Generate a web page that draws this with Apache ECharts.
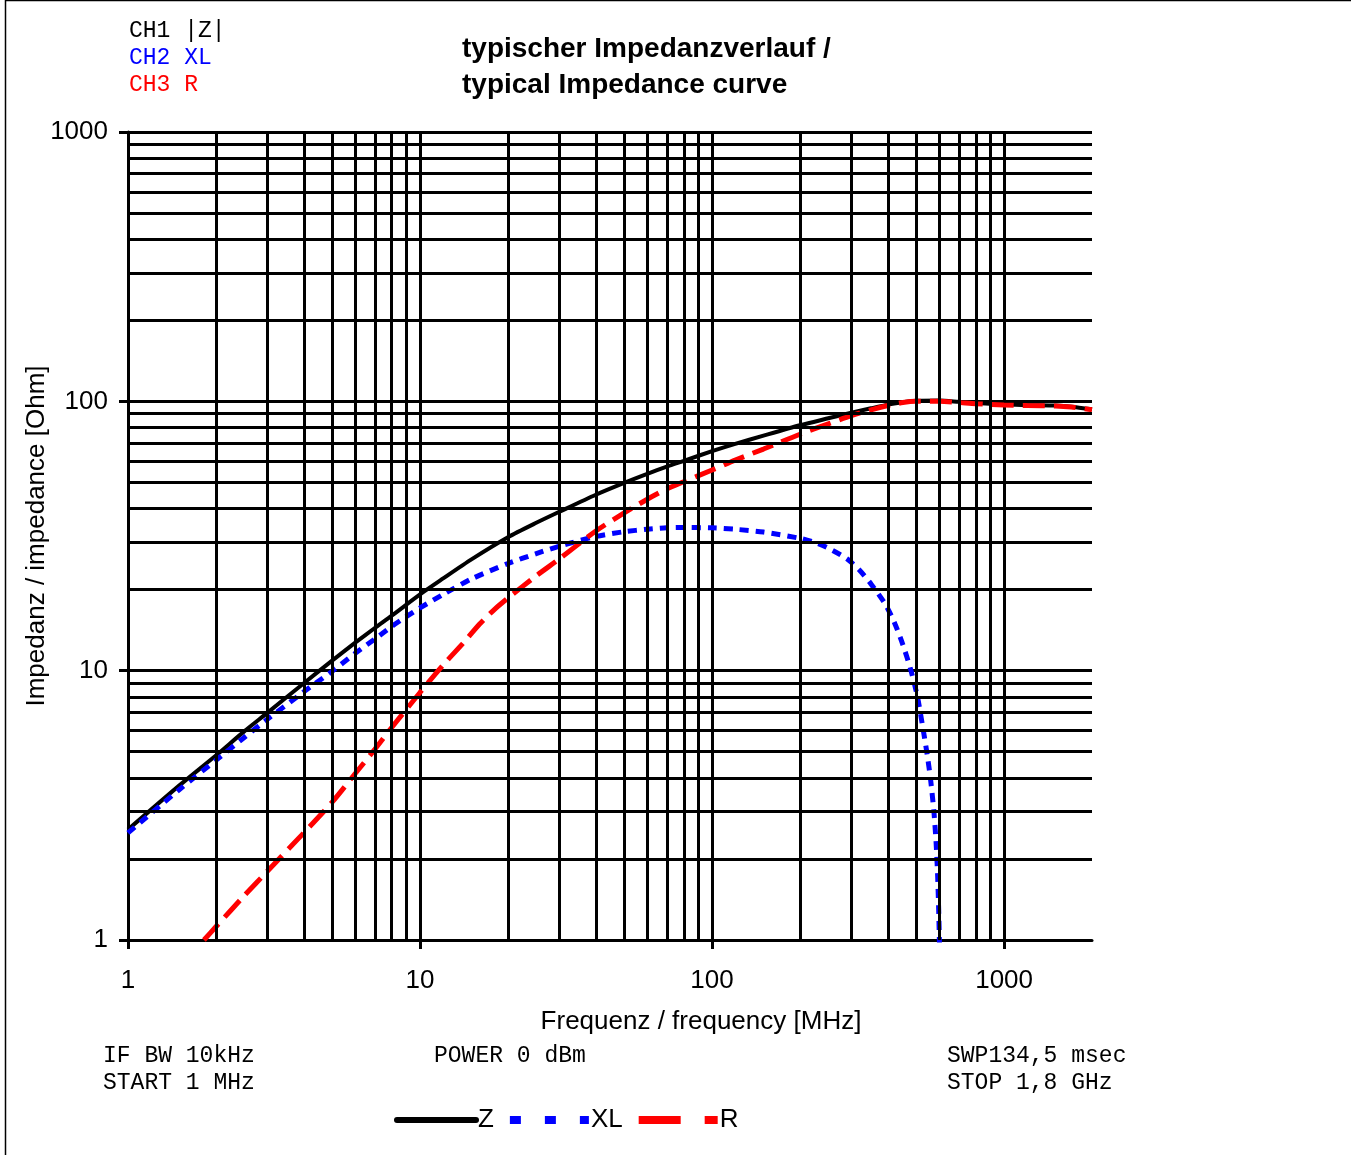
<!DOCTYPE html>
<html>
<head>
<meta charset="utf-8">
<script src="https://cdn.jsdelivr.net/npm/echarts@6/dist/echarts.min.js"></script>
<style>
html,body{margin:0;padding:0;background:#fff;}
#chart{width:1351px;height:1155px;}
</style>
</head>
<body>
<div id="chart"></div>
<script>
// ---- data ----
const freqZ = [1, 1.5, 2, 2.5, 3, 4, 5, 6, 7, 8, 10, 12, 15, 20, 25, 30, 40, 50, 60, 70, 80, 100, 120, 150, 200, 250, 300, 350, 400, 450, 500, 600, 700, 800, 1000, 1200, 1500, 1700, 2000];
const valZ  = [2.57, 3.75, 4.84, 5.95, 6.97, 8.98, 10.9, 12.7, 14.4, 16.0, 19.2, 22.0, 25.9, 31.3, 35.4, 38.9, 45.0, 49.8, 53.8, 57.2, 60.1, 65.3, 69.5, 74.6, 81.5, 86.5, 90.7, 94.2, 97.2, 99.3, 100.4, 100.7, 99.6, 98.6, 97.4, 96.8, 96.4, 95.5, 93.4];

const freqXL = [1, 1.5, 2, 2.5, 3, 4, 5, 6, 7, 8, 9, 10, 12, 15, 20, 25, 30, 40, 50, 60, 70, 80, 100, 120, 150, 200, 225, 250, 290, 320, 350, 390, 420, 450, 480, 505, 525, 545, 560, 575, 585, 592, 597, 601];
const valXL  = [2.5, 3.62, 4.65, 5.65, 6.6, 8.35, 9.95, 11.6, 13.1, 14.6, 15.9, 17.1, 19.2, 21.9, 25.0, 27.2, 29.0, 31.5, 32.8, 33.5, 33.9, 34.0, 33.9, 33.5, 32.7, 31.0, 29.9, 28.5, 26.0, 23.6, 21.0, 17.8, 15.2, 12.5, 10.0, 8.0, 6.3, 4.9, 3.95, 3.0, 2.3, 1.75, 1.3, 0.95];

const freqR = [1.82, 2, 2.5, 3, 4, 5, 6, 7, 8, 10, 12, 14, 16, 18, 20, 25, 30, 40, 50, 60, 70, 80, 100, 120, 150, 200, 250, 300, 350, 400, 450, 500, 600, 700, 800, 1000, 1200, 1500, 1700, 2000];
const valR  = [1.0, 1.12, 1.46, 1.8, 2.5, 3.25, 4.15, 5.1, 6.15, 8.3, 10.5, 12.6, 14.9, 16.9, 18.6, 22.5, 26.0, 33.0, 38.5, 43.3, 47.3, 50.3, 55.6, 60.5, 66.5, 75.5, 82.5, 88.5, 93.0, 96.5, 99.0, 100.0, 100.0, 99.0, 98.0, 97.0, 96.4, 96.1, 95.2, 93.0];

// grid lines (between the decade lines)
const xMinorGrid = [2, 3, 4, 5, 6, 7, 8, 9, 20, 30, 40, 50, 60, 70, 80, 90, 200, 300, 400, 500, 600, 700, 800, 900];
const yMinorGrid = [2, 3, 4, 5, 6, 7, 8, 9, 20, 30, 40, 50, 60, 70, 80, 90, 200, 300, 400, 500, 600, 700, 800, 900];

const decadeTicks = [1, 10, 100, 1000];
const xLabels = ['1', '10', '100', '1000'];
const yLabels = ['1', '10', '100', '1000'];

const titleLines = ['typischer Impedanzverlauf /', 'typical Impedance curve'];
const channelTexts = [['CH1 |Z|', '#000'], ['CH2 XL', '#0000ff'], ['CH3 R', '#ff0000']];
const infoLeft = ['IF BW 10kHz', 'START 1 MHz'];
const infoMid = ['POWER 0 dBm'];
const infoRight = ['SWP134,5 msec', 'STOP 1,8 GHz'];

// ---- chart ----
const pair = (xs, ys) => xs.map((x, i) => [x, ys[i]]);
const isDecade = v => { const l = Math.log10(v); return Math.abs(l - Math.round(l)) < 1e-6; };

const gridMarkLines = [].concat(
  xMinorGrid.map(v => ({ xAxis: v })),
  yMinorGrid.map(v => ({ yAxis: v }))
);

const mono = '"Liberation Mono", "DejaVu Sans Mono", monospace';
const sans = '"Liberation Sans", Arial, sans-serif';

const graphics = [
  { type: 'line', shape: { x1: 5, y1: 0.5, x2: 1351, y2: 0.5 }, style: { stroke: '#000', lineWidth: 1.5 } },
  { type: 'line', shape: { x1: 5.5, y1: 0, x2: 5.5, y2: 1155 }, style: { stroke: '#000', lineWidth: 1.5 } }
];
channelTexts.forEach((t, i) => graphics.push({ type: 'text', left: 129, top: 19 + i * 27, style: { text: t[0], fill: t[1], font: '23px ' + mono } }));
titleLines.forEach((t, i) => graphics.push({ type: 'text', left: 462, top: 35 + i * 36, style: { text: t, fill: '#000', font: 'bold 28px ' + sans } }));
infoLeft.forEach((t, i) => graphics.push({ type: 'text', left: 103, top: 1044 + i * 27, style: { text: t, fill: '#000', font: '23px ' + mono } }));
infoMid.forEach((t, i) => graphics.push({ type: 'text', left: 434, top: 1044 + i * 27, style: { text: t, fill: '#000', font: '23px ' + mono } }));
infoRight.forEach((t, i) => graphics.push({ type: 'text', left: 947, top: 1044 + i * 27, style: { text: t, fill: '#000', font: '23px ' + mono } }));

const chart = echarts.init(document.getElementById('chart'), null, { renderer: 'canvas' });
chart.setOption({
  animation: false,
  backgroundColor: '#fff',
  grid: { left: 128, right: 259, top: 132, bottom: 215, containLabel: false },
  legend: {
    data: [
      { name: 'Z', lineStyle: { width: 6, type: 'solid', cap: 'round', color: '#000' } },
      { name: 'XL', lineStyle: { width: 8, type: [11, 24], color: '#0000ff' } },
      { name: 'R', lineStyle: { width: 8, type: [42, 24], color: '#ff0000' } }
    ],
    left: 394, top: 1107, padding: 0,
    itemWidth: 79, itemHeight: 14, itemGap: 12,
    itemStyle: { opacity: 0, color: 'rgba(0,0,0,0)', borderWidth: 0 },
    textStyle: { fontSize: 26, color: '#000', fontFamily: sans, padding: [0, 0, 0, -3] },
    selectedMode: false
  },
  xAxis: {
    type: 'log', logBase: 10, min: 1, max: 2000,
    name: 'Frequenz / frequency [MHz]', nameLocation: 'middle', nameGap: 69,
    nameMoveOverlap: false,
    nameTextStyle: { fontSize: 26, color: '#000', fontFamily: sans, padding: [0, 0, 0, 182] },
    axisLine: { show: true, lineStyle: { color: '#000', width: 3 } },
    axisTick: { show: true, length: 9, customValues: decadeTicks, lineStyle: { color: '#000', width: 3 } },
    axisLabel: { fontSize: 26, color: '#000', fontFamily: sans, margin: 28,
      formatter: v => isDecade(v) ? xLabels[Math.round(Math.log10(v))] : '' },
    splitLine: { show: true, lineStyle: { color: '#000', width: 3 } },
    minorTick: { show: false }, minorSplitLine: { show: false }
  },
  yAxis: {
    type: 'log', logBase: 10, min: 1, max: 1000,
    name: 'Impedanz / impedance [Ohm]', nameLocation: 'middle', nameGap: 78,
    nameMoveOverlap: false,
    nameTextStyle: { fontSize: 26, color: '#000', fontFamily: sans },
    axisLine: { show: true, lineStyle: { color: '#000', width: 3 } },
    axisTick: { show: true, length: 9, lineStyle: { color: '#000', width: 3 } },
    axisLabel: { fontSize: 26, color: '#000', fontFamily: sans, margin: 20,
      formatter: v => isDecade(v) ? yLabels[Math.round(Math.log10(v))] : '' },
    splitLine: { show: true, lineStyle: { color: '#000', width: 3 } },
    minorTick: { show: false }, minorSplitLine: { show: false }
  },
  graphic: graphics,
  series: [
    {
      name: 'Z', type: 'line', data: pair(freqZ, valZ), symbol: 'none', smooth: 0.25, clip: true,
      lineStyle: { color: '#000', width: 4, type: 'solid' }, itemStyle: { color: '#000' },
      markLine: { silent: true, symbol: 'none', label: { show: false }, animation: false,
        lineStyle: { color: '#000', width: 3, type: 'solid' }, emphasis: { disabled: true },
        data: gridMarkLines },
      z: 2
    },
    {
      name: 'XL', type: 'line', data: pair(freqXL, valXL), symbol: 'none', smooth: 0.25, clip: true,
      lineStyle: { color: '#0000ff', width: 5, type: [9, 7] }, itemStyle: { color: '#0000ff' }, z: 3
    },
    {
      name: 'R', type: 'line', data: pair(freqR, valR), symbol: 'none', smooth: 0.25, clip: true,
      lineStyle: { color: '#ff0000', width: 5, type: [22, 9] }, itemStyle: { color: '#ff0000' }, z: 4
    }
  ]
});
</script>
</body>
</html>
